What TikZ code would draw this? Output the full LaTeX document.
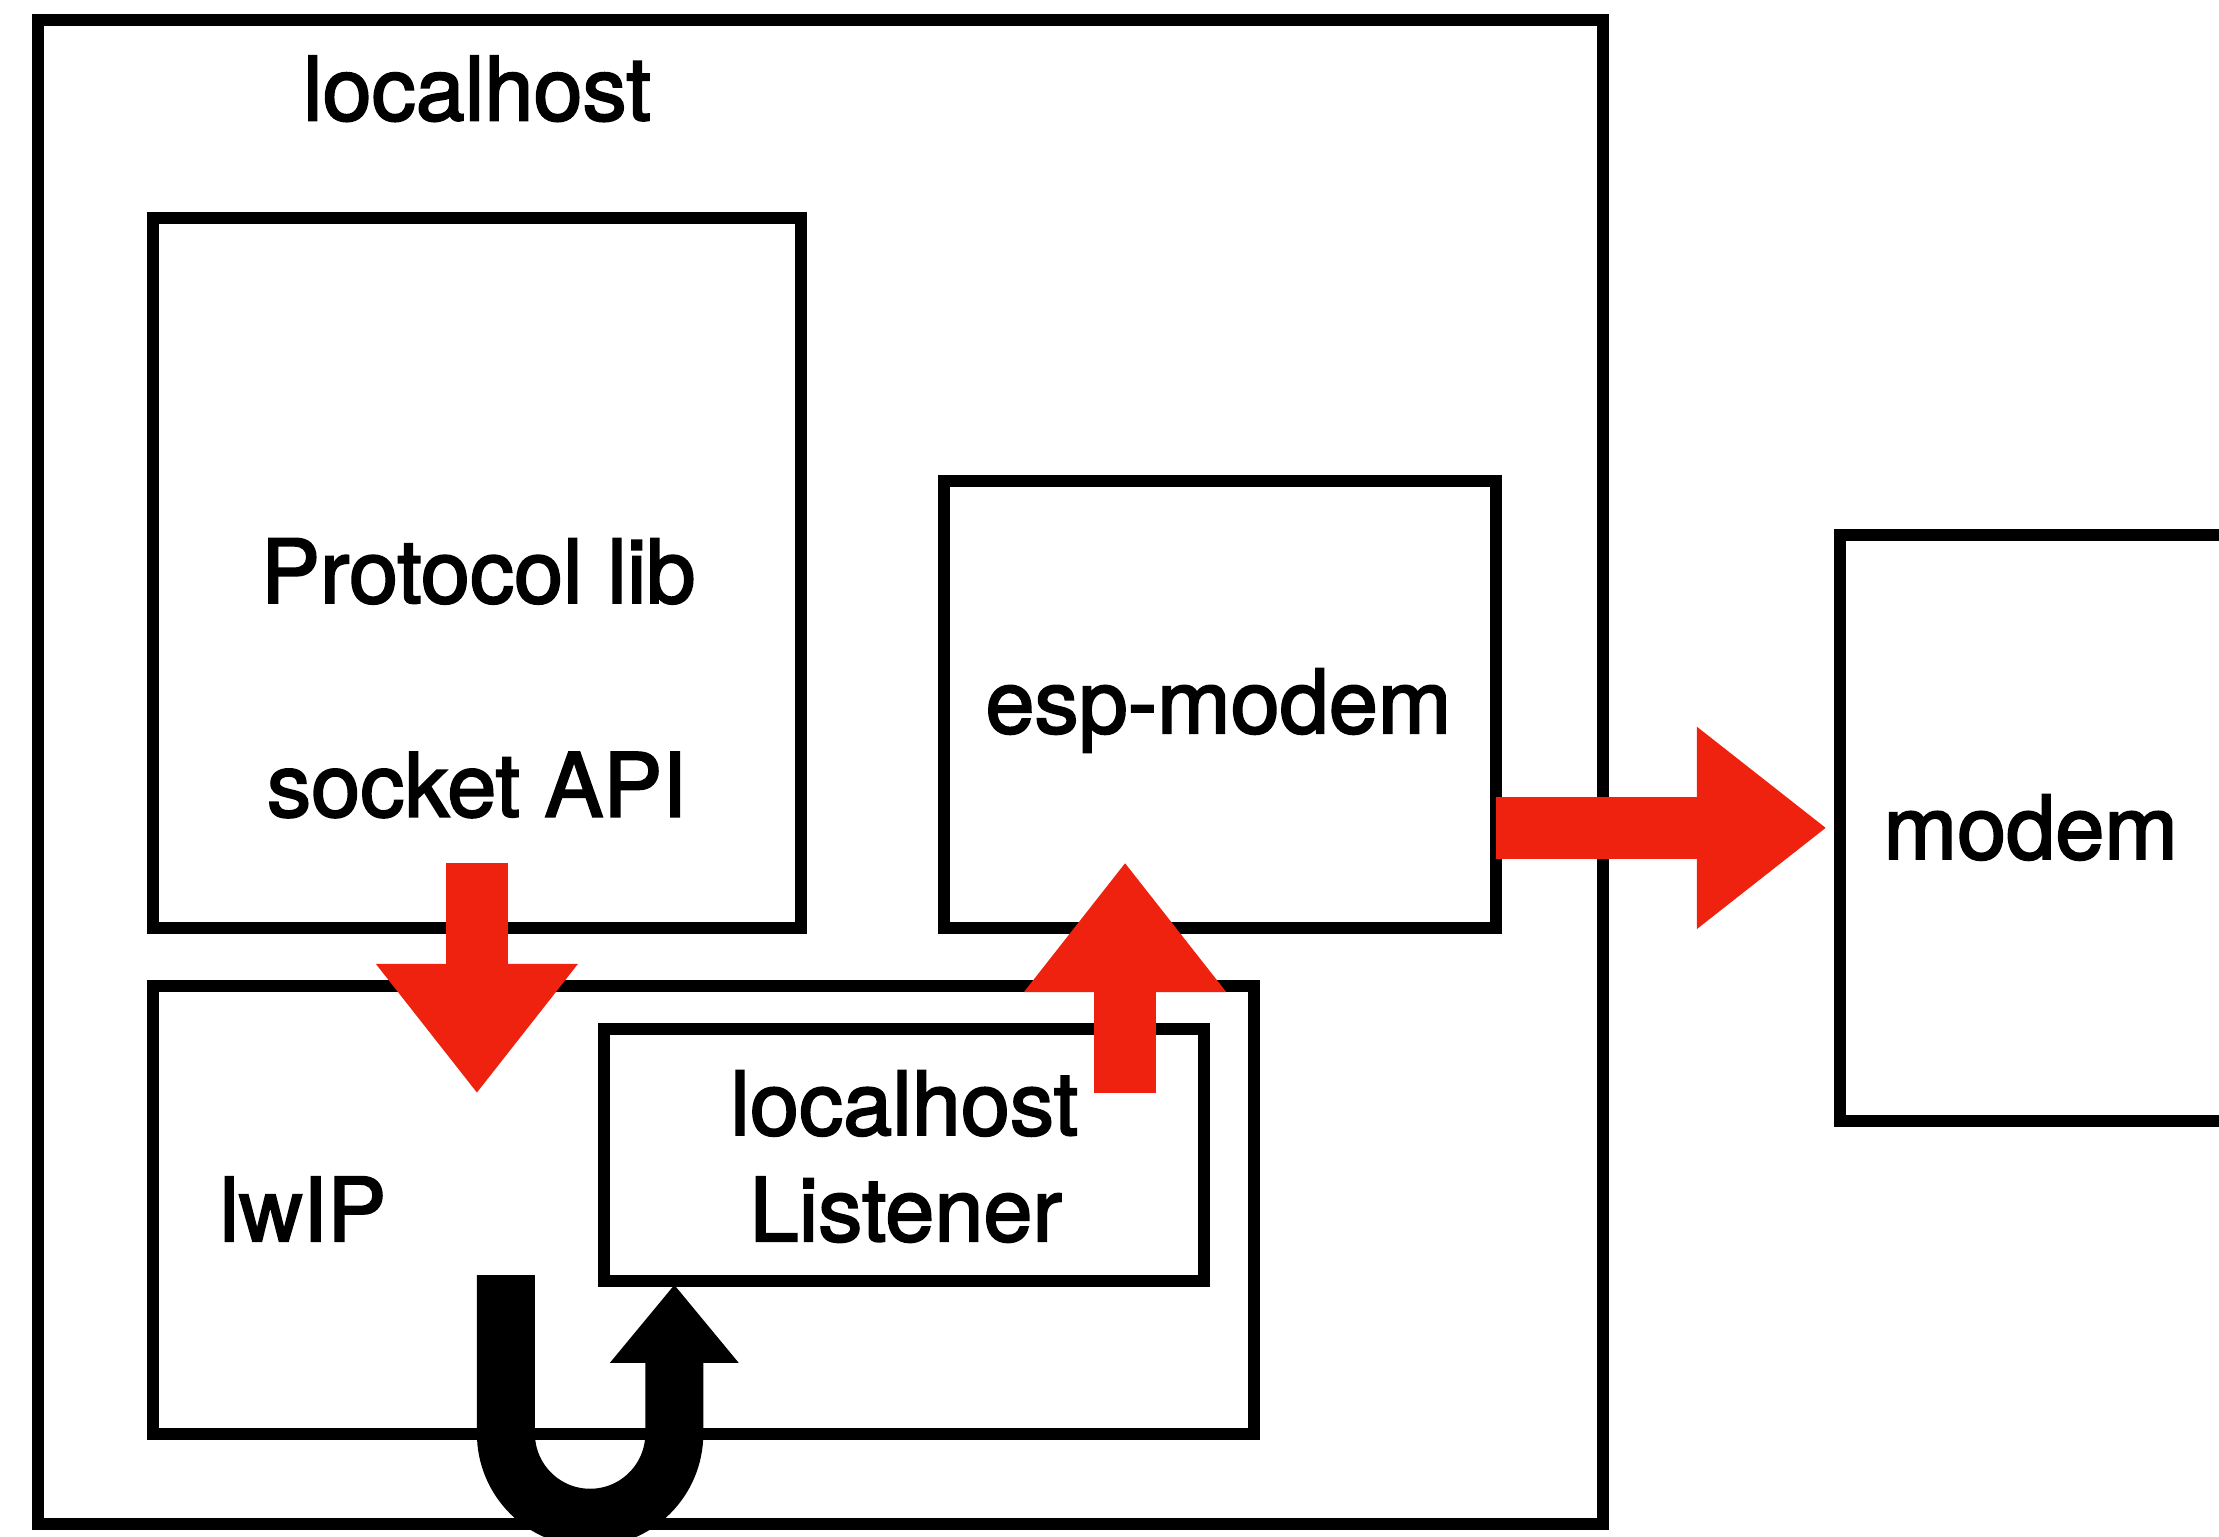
\documentclass[tikz,border=0pt]{standalone}
\usepackage{fontspec}
\setmainfont{TeX Gyre Heros}[FakeBold=2.2]
\usetikzlibrary{arrows.meta}
\definecolor{flowred}{RGB}{238,34,14}

\begin{document}
\begin{tikzpicture}[
    x=0.02cm, y=0.02cm,
    every node/.style={inner sep=0pt, outer sep=0pt},
    box/.style={draw, line width=0.17cm},
    lbl/.style={anchor=base, font=\fontsize{35.5}{42}\selectfont},
    redarrow/.style={flowred, line width=0.88cm,
        -{Triangle[width=2.86cm,length=1.82cm,line width=0pt]}},
    looparrow/.style={black, line width=0.82cm,
        -{Triangle[width=1.82cm,length=1.1cm,line width=0pt]}}
]

\clip (0,0) rectangle (1568,1086);

% Boxes
\node[box, minimum width=22.12cm, minimum height=21.26cm] (host) at (580,540.5) {};
\node[box, minimum width=9.16cm, minimum height=10.04cm] (proto) at (337,681) {};
\node[box, minimum width=7.8cm, minimum height=6.32cm] (esp) at (862,588) {};
\node[box, minimum width=5.44cm, minimum height=8.28cm] (modem) at (1436,501) {};
\node[box, minimum width=15.56cm, minimum height=6.32cm] (lwip) at (497,231) {};
\node[box, minimum width=8.48cm, minimum height=3.56cm] (listener) at (639,270) {};

% Labels
\node[lbl] (hostlbl) at (337,1001) {localhost};
\node[lbl] (protolbl) at (338,660) {Protocol lib};
\node[lbl] (socklbl) at (337,509) {socket API};
\node[lbl] (esplbl) at (861,568) {esp-modem};
\node[lbl] (modemlbl) at (1435,479) {modem};
\node[lbl] (lwiplbl) at (214,209) {lwIP};
\node[lbl] (listenlbl) at (639,284) {localhost};
\node[lbl] (listenlbl2) at (640,209) {Listener};

% Points for the arrows
\coordinate (apiOut) at ([yshift=0.92cm]proto.south);
\coordinate (lwipIn) at (337,314);
\coordinate (espIn) at (795,476);
\coordinate (listenOut) at (795,314);
\coordinate (loopStart) at (357.5,185);
\coordinate (loopEnd) at (476.5,178);

% Red data flow
\draw[redarrow] (apiOut) -- (lwipIn);
\draw[redarrow] (listenOut) -- (espIn);
\draw[redarrow] (esp.east |- modem.west) -- ([xshift=-0.2cm]modem.west);

% Loop back into the listener
\draw[looparrow] (loopStart) -- (357.5,73)
    arc[start angle=180, end angle=360, radius=1.19cm] -- (loopEnd);

\end{tikzpicture}
\end{document}
